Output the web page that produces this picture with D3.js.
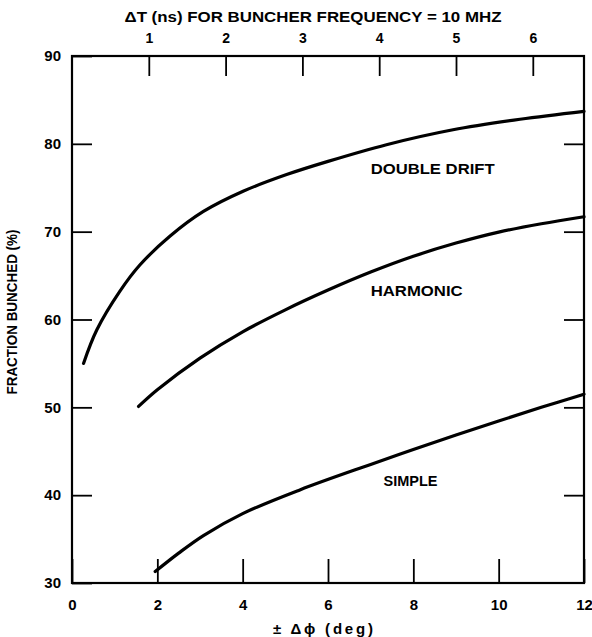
<!DOCTYPE html>
<html lang="en">
  <head>
    <title>Fraction Bunched</title>
    <script src="https://cdn.jsdelivr.net/npm/d3@7"></script>
    <style>
      body { margin: 0; background: white; }
      text { font-family: "Liberation Sans", Arial, sans-serif; font-weight: bold; fill: black; }
    </style>
  </head>

  <body>
    <div id="container"></div>
  </body>

<script>
    // curves (x = +/- delta phi in deg, y = fraction bunched %)
    const doubleDriftDeg = [0.27, 0.58, 1.12, 1.59, 2.3, 3.08, 4.01, 5.03, 6.0, 7.37, 8.93, 10.5, 12];
    const doubleDriftVal = [55.0, 58.8, 63.2, 66.2, 69.5, 72.3, 74.6, 76.5, 78.0, 79.9, 81.6, 82.8, 83.7];

    const harmonicDeg = [1.56, 2, 3, 4, 5, 6, 7, 8, 9, 10, 11, 12];
    const harmonicVal = [50.1, 52.0, 55.6, 58.6, 61.1, 63.35, 65.4, 67.2, 68.7, 69.95, 70.9, 71.7];

    const simpleDeg = [1.95, 2.5, 3.08, 4, 5.34, 7, 8, 9, 10, 11, 12];
    const simpleVal = [31.3, 33.4, 35.4, 37.9, 40.6, 43.5, 45.2, 46.85, 48.45, 50.0, 51.5];

    const curveNames = ["DOUBLE DRIFT", "HARMONIC", "SIMPLE"];

    const xTicks = [0, 2, 4, 6, 8, 10, 12];
    const yTicks = [30, 40, 50, 60, 70, 80, 90];
    const nsTicks = [1, 2, 3, 4, 5, 6];
    const degPerNs = 1.8;   // 10 MHz buncher, +/- phase

    const margin = {top: 56, right: 8, bottom: 54, left: 72};
    const W = 592, H = 637;
    const width = W - margin.left - margin.right;
    const height = H - margin.top - margin.bottom;

    const svg = d3.select("#container").append("svg")
        .attr("width", W).attr("height", H)
      .append("g")
        .attr("transform", `translate(${margin.left}, ${margin.top})`);

    const x = d3.scaleLinear().domain([0, 12]).range([0, width]);
    const xNs = d3.scaleLinear().domain([0, 12 / degPerNs]).range([0, width]);
    const y = d3.scaleLinear().domain([30, 90]).range([height, 0]);

    // axes, ticks pointing inward
    const bottomAxis = svg.append("g")
        .attr("transform", `translate(0, ${height})`)
        .call(d3.axisBottom(x).tickValues(xTicks).tickSizeInner(-24).tickSizeOuter(0).tickPadding(16));
    bottomAxis.selectAll(".tick text").style("font-size", "15px");

    const leftAxis = svg.append("g")
        .call(d3.axisLeft(y).tickValues(yTicks).tickSizeInner(-20).tickSizeOuter(0).tickPadding(11));
    leftAxis.selectAll(".tick text").style("font-size", "15px");

    svg.append("g")
        .attr("transform", `translate(${width}, 0)`)
        .call(d3.axisRight(y).tickValues(yTicks.slice(1, -1)).tickSizeInner(-20).tickSizeOuter(0).tickFormat(""));

    const topAxis = svg.append("g")
        .call(d3.axisTop(xNs).tickValues(nsTicks).tickFormat(d3.format("d"))
          .tickSizeInner(-20).tickSizeOuter(0).tickPadding(13));
    topAxis.selectAll(".tick text").style("font-size", "14px");

    svg.selectAll(".domain").remove();
    svg.selectAll(".tick line").attr("stroke", "black").attr("stroke-width", 1.8);

    svg.append("rect")
        .attr("width", width).attr("height", height)
        .attr("fill", "none").attr("stroke", "black").attr("stroke-width", 2.2);

    // curves
    const line = d3.line()
        .x(d => x(d[0]))
        .y(d => y(d[1]))
        .curve(d3.curveCatmullRom.alpha(0.5));

    const series = [
      d3.zip(doubleDriftDeg, doubleDriftVal),
      d3.zip(harmonicDeg, harmonicVal),
      d3.zip(simpleDeg, simpleVal)
    ];

    svg.selectAll(".curve")
        .data(series)
        .enter()
        .append("path")
          .attr("class", "curve")
          .attr("d", line)
          .attr("fill", "none")
          .attr("stroke", "black")
          .attr("stroke-width", 3.2)
          .attr("stroke-linecap", "round");

    // curve labels
    const labelPos = [[7.0, 77.0], [7.0, 63.1], [7.3, 41.5]];
    const labelLen = [124, 92, 54];
    svg.selectAll(".curveLabel")
        .data(curveNames)
        .enter()
        .append("text")
          .attr("x", (d, i) => x(labelPos[i][0]))
          .attr("y", (d, i) => y(labelPos[i][1]))
          .attr("dominant-baseline", "middle")
          .attr("textLength", (d, i) => labelLen[i])
          .attr("lengthAdjust", "spacingAndGlyphs")
          .style("font-size", "14px")
          .text(d => d);

    // axis titles
    svg.append("text")
        .attr("x", 313 - margin.left).attr("y", -34)
        .attr("text-anchor", "middle")
        .attr("textLength", 377)
        .attr("lengthAdjust", "spacingAndGlyphs")
        .style("font-size", "14px")
        .text("\u0394T (ns) FOR BUNCHER FREQUENCY = 10 MHZ");

    svg.append("text")
        .attr("x", 323 - margin.left).attr("y", height + 51)
        .attr("text-anchor", "middle")
        .attr("textLength", 100)
        .attr("lengthAdjust", "spacing")
        .style("font-size", "15px")
        .text("\u00B1 \u0394\u03D5 (deg)");

    svg.append("text")
        .attr("transform", `translate(${-55}, ${312 - margin.top}) rotate(-90)`)
        .attr("text-anchor", "middle")
        .attr("textLength", 165)
        .attr("lengthAdjust", "spacingAndGlyphs")
        .style("font-size", "14px")
        .text("FRACTION BUNCHED (%)");
</script>
</html>
